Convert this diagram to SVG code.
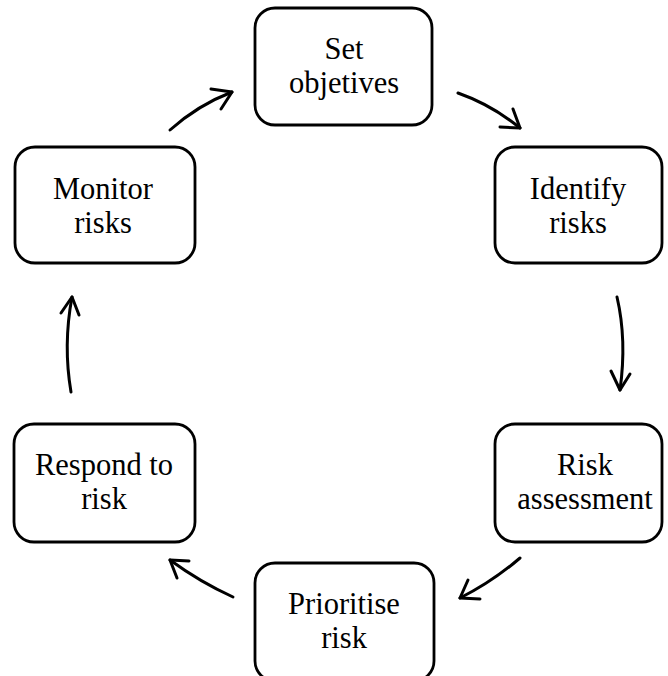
<svg xmlns="http://www.w3.org/2000/svg" width="668" height="676" viewBox="0 0 668 676">
  <style>
    .box { fill: #ffffff; stroke: #000000; stroke-width: 2.8; }
    .lbl { font-size: 30.5px; fill: #000000; text-anchor: middle; }
    .arc { fill: none; stroke: #000000; stroke-width: 3; stroke-linecap: round; }
    .tip { fill: none; stroke: #000000; stroke-width: 3; stroke-linecap: round; stroke-linejoin: round; }
  </style>
  <rect width="668" height="676" fill="#ffffff"/>

  <g id="connectors">
    <path class="arc" d="M170,130 Q198,105 232,92"/>
    <path class="tip" d="M211,89 L232,92 L221,109"/>

    <path class="arc" d="M458,93 Q492,105 520,128"/>
    <path class="tip" d="M500,127 L520,128 L513,109"/>

    <path class="arc" d="M617,297 Q627,340 620,390"/>
    <path class="tip" d="M611,371 L620,390 L630,374"/>

    <path class="arc" d="M520,558 Q492,582 460,598"/>
    <path class="tip" d="M468,580 L460,598 L480,599"/>

    <path class="arc" d="M233,597 Q200,582 170,560"/>
    <path class="tip" d="M189,561 L170,560 L177,578"/>

    <path class="arc" d="M71,392 Q63,345 72,297"/>
    <path class="tip" d="M61,313 L72,297 L79,315"/>
  </g>

  <g font-family="'Liberation Serif', 'Times New Roman', 'DejaVu Serif', serif">
    <g id="set-objectives">
      <rect class="box" x="255" y="8" width="177" height="117" rx="20"/>
      <text class="lbl" x="344" y="59">Set</text>
      <text class="lbl" x="344" y="93">objetives</text>
    </g>

    <g id="identify-risks">
      <rect class="box" x="495" y="147" width="167" height="116" rx="20"/>
      <text class="lbl" x="578" y="199">Identify</text>
      <text class="lbl" x="578" y="233">risks</text>
    </g>

    <g id="risk-assessment">
      <rect class="box" x="495" y="424" width="167" height="118" rx="20"/>
      <text class="lbl" x="585" y="475">Risk</text>
      <text class="lbl" x="585" y="509">assessment</text>
    </g>

    <g id="prioritise-risk">
      <rect class="box" x="255" y="563" width="179" height="118" rx="20"/>
      <text class="lbl" x="344" y="614">Prioritise</text>
      <text class="lbl" x="344" y="648">risk</text>
    </g>

    <g id="respond-to-risk">
      <rect class="box" x="14" y="424" width="181" height="118" rx="20"/>
      <text class="lbl" x="104" y="475">Respond to</text>
      <text class="lbl" x="104" y="509">risk</text>
    </g>

    <g id="monitor-risks">
      <rect class="box" x="15" y="147" width="180" height="116" rx="20"/>
      <text class="lbl" x="103" y="199">Monitor</text>
      <text class="lbl" x="103" y="233">risks</text>
    </g>
  </g>
</svg>
